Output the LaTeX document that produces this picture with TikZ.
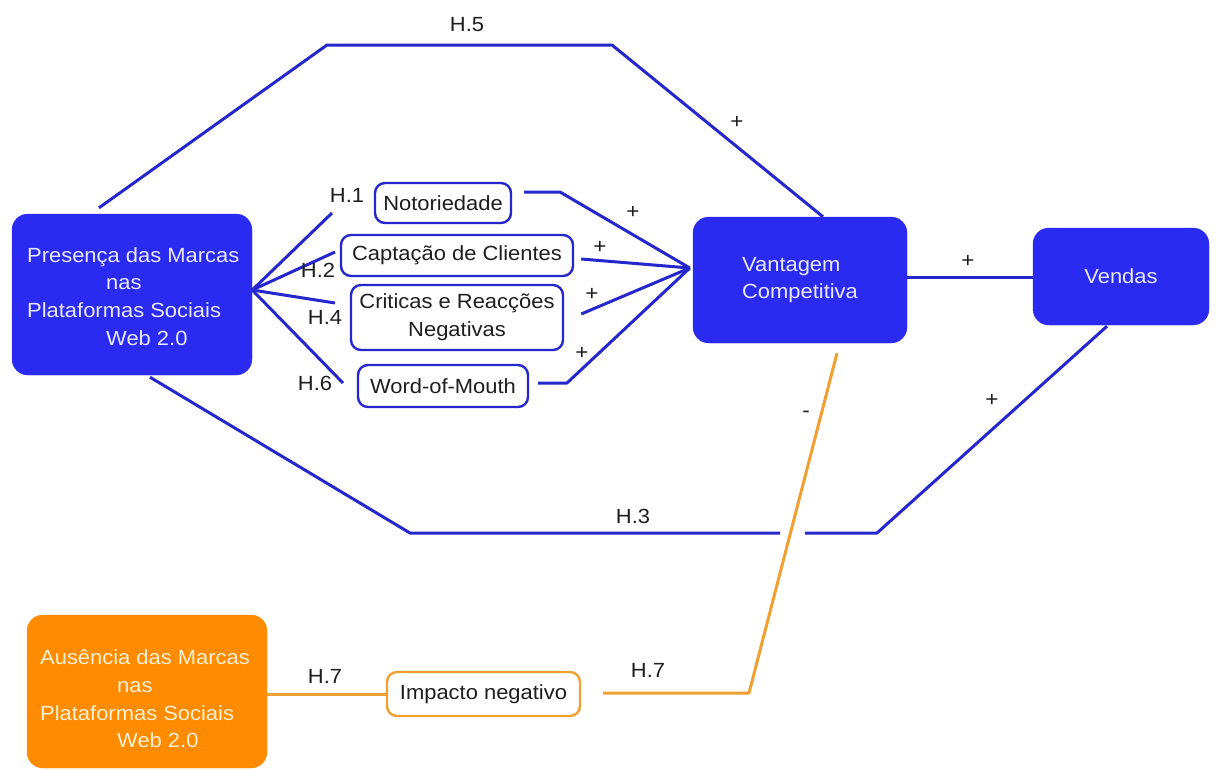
\documentclass[tikz,border=0pt]{standalone}
\usepackage{fontspec}
\setmainfont{Liberation Sans}[FakeStretch=1.07]
\definecolor{boxblue}{RGB}{42,42,240}
\definecolor{lineblue}{RGB}{38,38,205}
\definecolor{boxorange}{RGB}{255,140,0}
\definecolor{lineorange}{RGB}{240,160,48}
\definecolor{pale}{RGB}{232,232,255}
\definecolor{cream}{RGB}{255,240,210}
\definecolor{ink}{RGB}{30,30,30}
\newcommand\fsz{\fontsize{20.5}{27.7}\selectfont}
\begin{document}
\begin{tikzpicture}[x=1pt,y=-1pt,
  bigbox/.style={fill=boxblue, draw=boxblue, rounded corners=16pt, inner sep=0pt},
  obox/.style={fill=boxorange, draw=boxorange, rounded corners=16pt, inner sep=0pt},
  smallbox/.style={draw=lineblue, line width=2.4pt, rounded corners=10pt, fill=white, inner sep=0pt, font=\fsz, text=ink, align=center},
  osmallbox/.style={draw=lineorange, line width=2.4pt, rounded corners=10pt, fill=white, inner sep=0pt, font=\fsz, text=ink, align=center},
  blk/.style={text=pale, font=\fsz, align=left, inner sep=0pt},
  oblk/.style={text=cream, font=\fsz, align=left, inner sep=0pt},
  conn/.style={draw=lineblue, line width=3pt, line join=round},
  oconn/.style={draw=lineorange, line width=3pt, line join=round},
  lbl/.style={font=\fsz, text=ink, inner sep=0pt},
  sgn/.style={font=\fontsize{21}{22}\selectfont, text=ink, inner sep=0pt}]
\useasboundingbox (0,0) rectangle (1219,769);
\fill[white] (0,0) rectangle (1219,769);

% main boxes
\node[bigbox, minimum width=240pt, minimum height=161pt] (pres) at (132,294.5) {};
\node[blk, anchor=west] (prest) at (27,296.5) {Presença das Marcas\\\hspace*{79pt}nas\\Plataformas Sociais\\\hspace*{79pt}Web 2.0};
\node[bigbox, minimum width=214pt, minimum height=126pt, text=pale, font=\fsz, align=left] (vant) at (800,280) {Vantagem\\Competitiva};
\node[bigbox, minimum width=176pt, minimum height=97pt, text=pale, font=\fsz] (vend) at (1121,276.5) {Vendas};

% mediators
\node[smallbox, minimum width=136pt, minimum height=40pt] (notor) at (443,203) {Notoriedade};
\node[smallbox, minimum width=232pt, minimum height=41pt] (capt) at (457,255.5) {Captação de Clientes};
\node[smallbox, minimum width=212pt, minimum height=65pt] (crit) at (457,317.5) {Criticas e Reacções\\Negativas};
\node[smallbox, minimum width=170pt, minimum height=42pt] (wom) at (443,386) {Word-of-Mouth};

% orange part
\node[obox, minimum width=240pt, minimum height=153pt] (absn) at (147,691.5) {};
\node[oblk, anchor=west] (absnt) at (40,699) {Ausência das Marcas\\\hspace*{77pt}nas\\Plataformas Sociais\\\hspace*{77pt}Web 2.0};
\node[osmallbox, minimum width=193pt, minimum height=44pt] (imp) at (483.5,694) {Impacto negativo};

% coordinates
\coordinate (fan) at ([yshift=4.5pt]pres.east);
\coordinate (e1) at (332,213);
\coordinate (e2) at (335,252);
\coordinate (e4) at (335,303);
\coordinate (e6) at (343,383);
\coordinate (vin) at ([xshift=-3pt,yshift=12pt]vant.west);
\coordinate (gapL) at (780,533);
\coordinate (gapR) at (805,533);
\coordinate (oend) at (603,693);

% left fan
\draw[conn] (fan) -- (e1);
\draw[conn] (fan) -- (e2);
\draw[conn] (fan) -- (e4);
\draw[conn] (fan) -- (e6);

% right fan
\draw[conn] ([xshift=12pt,yshift=11pt]notor.east) -- (560,192) -- (vin);
\draw[conn] ([xshift=7pt,yshift=-3.5pt]capt.east) -- (vin);
\draw[conn] ([xshift=17pt,yshift=3.5pt]crit.east) -- (vin);
\draw[conn] ([xshift=9pt,yshift=3pt]wom.east) -- (567,383) -- (vin);

% H.5
\draw[conn] ([xshift=-33pt,yshift=6pt]pres.north) -- (327,45) -- (612,45) -- ([xshift=23pt]vant.north);
% vantagem - vendas
\draw[conn] ([yshift=3pt]vant.east) -- ([yshift=-0.5pt]vend.west);
% H.3
\draw[conn] ([xshift=18pt,yshift=-2pt]pres.south) -- (410,533) -- (gapL);
\draw[conn] (gapR) -- (877,533) -- ([xshift=-14pt,yshift=-1pt]vend.south);
% orange
\draw[oconn] ([xshift=37pt,yshift=-10pt]vant.south) -- (749,693) -- (oend);
\draw[oconn] (absn.east |- imp.west) -- (imp.west);

% labels
\node[lbl] (lh5) at (467,25) {H.5};
\node[lbl] (lh1) at (347,195) {H.1};
\node[lbl] (lh2) at (318,270) {H.2};
\node[lbl] (lh4) at (325,317) {H.4};
\node[lbl] (lh6) at (315,383) {H.6};
\node[lbl] (lh3) at (633,516) {H.3};
\node[lbl] (lh7a) at (325,676) {H.7};
\node[lbl] (lh7b) at (648,670) {H.7};

\node[sgn] (s1) at (737,122) {+};
\node[sgn] (s2) at (633,212) {+};
\node[sgn] (s3) at (600,247) {+};
\node[sgn] (s4) at (592,294) {+};
\node[sgn] (s5) at (582,353) {+};
\node[sgn] (s6) at (968,261) {+};
\node[sgn] (s7) at (992,400) {+};
\node[sgn] (s8) at (806,414) {-};
\end{tikzpicture}
\end{document}
